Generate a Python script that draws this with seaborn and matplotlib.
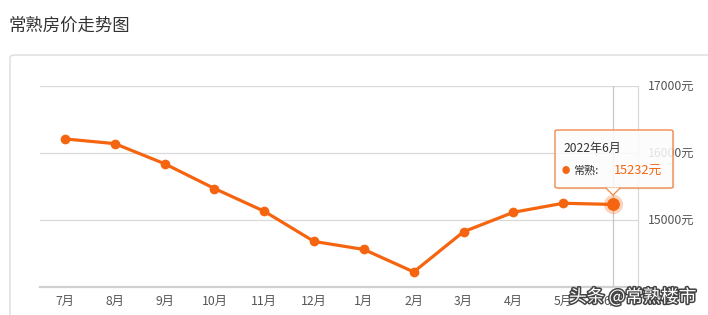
import matplotlib
matplotlib.use("Agg")
import matplotlib.pyplot as plt
import seaborn as sns
import pandas as pd
from matplotlib.patches import FancyBboxPatch, Polygon
import matplotlib.patheffects as pe

months = ["7月", "8月", "9月", "10月", "11月", "12月", "1月", "2月", "3月", "4月", "5月", "6月"]
prices = [16210, 16140, 15840, 15470, 15130, 14680, 14560, 14225, 14825, 15115, 15250, 15232]
y_ticks = [15000, 16000, 17000]
y_tick_labels = ["15000元", "16000元", "17000元"]
title = "常熟房价走势图"
tip_title = "2022年6月"
tip_series = "常熟:"
tip_value = "15232元"
watermark = "头条 @常熟楼市"

sns.set_theme(style="white")
plt.rcParams["font.family"] = ["Noto Sans CJK SC", "DejaVu Sans"]

W, H = 708, 315
fig = plt.figure(figsize=(W / 100, H / 100), dpi=100)
fig.patch.set_facecolor("white")

def fx(x):
    return x / W

def fy(y):
    return 1 - y / H

ORANGE = "#f5650f"

# card
card = FancyBboxPatch((fx(10), fy(340)), fx(720) - fx(10), fy(55) - fy(340),
                      boxstyle="round,pad=0,rounding_size=0.008",
                      transform=fig.transFigure, facecolor="white",
                      edgecolor="#dcdcdc", linewidth=1.0, zorder=-5)
fig.patches.append(card)

fig.text(fx(8), fy(26), title, fontsize=12.5, color="#333333", va="center", ha="left")

ax = fig.add_axes([fx(40), fy(287), fx(638) - fx(40), fy(86) - fy(287)])
ax.set_zorder(1)
ax.set_facecolor("none")
ax.patch.set_alpha(0)

df = pd.DataFrame({"month": months, "price": prices})
df["pos"] = range(len(months))
sns.lineplot(data=df, x="pos", y="price", ax=ax, color=ORANGE, linewidth=2.3,
             marker="o", markersize=7, markeredgewidth=0, sort=False, zorder=3)

ax.set_xlim(-0.5, len(months) - 0.5)
ax.set_ylim(14000, 17000)
ax.set_xticks(range(len(months)))
ax.set_xticklabels(months)
ax.set_yticks(y_ticks)
ax.set_yticklabels(y_tick_labels)
ax.yaxis.tick_right()
ax.set_xlabel("")
ax.set_ylabel("")
for yt in y_ticks:
    ax.axhline(yt, color="#d9d9d9", linewidth=0.9, zorder=1)
for s in ["left", "top"]:
    ax.spines[s].set_visible(False)
ax.spines["right"].set_color("#d9d9d9")
ax.spines["right"].set_linewidth(0.9)
ax.spines["bottom"].set_color("#d0d0d0")
ax.spines["bottom"].set_linewidth(1.6)
ax.tick_params(axis="x", length=3, color="#d0d0d0", width=0.8, labelsize=8.8,
               labelcolor="#555555", pad=3)
ax.tick_params(axis="y", length=0, labelsize=8.8, labelcolor="#555555", pad=7)
for lbl in ax.get_yticklabels():
    lbl.set_verticalalignment("center")

# crosshair at last point
last = len(months) - 1
ax.axvline(last, color="#c8c8c8", linewidth=0.9, zorder=2)
ax.scatter([last], [prices[last]], s=190, color=ORANGE, alpha=0.28, linewidths=0, zorder=4)
ax.scatter([last], [prices[last]], s=85, color=ORANGE, linewidths=0, zorder=5)

# tooltip
tx0, ty0, tx1, ty1 = 555, 130, 673, 188
shadow = FancyBboxPatch((fx(tx0 + 1.5), fy(ty1 + 1.5)), fx(tx1) - fx(tx0), fy(ty0) - fy(ty1),
                        boxstyle="round,pad=0,rounding_size=0.004", transform=fig.transFigure,
                        facecolor="#000000", alpha=0.06, edgecolor="none", zorder=10)
fig.patches.append(shadow)
box = FancyBboxPatch((fx(tx0), fy(ty1)), fx(tx1) - fx(tx0), fy(ty0) - fy(ty1),
                     boxstyle="round,pad=0,rounding_size=0.004", transform=fig.transFigure,
                     facecolor=(1, 1, 1, 0.85), edgecolor="#f08a4b", linewidth=1.0, zorder=11)
fig.patches.append(box)
tri = Polygon([(fx(606), fy(188)), (fx(613), fy(195)), (fx(620), fy(188))], closed=False,
              transform=fig.transFigure, facecolor="white", edgecolor="#f08a4b",
              linewidth=1.0, zorder=12)
fig.patches.append(tri)
tri_fill = Polygon([(fx(606.8), fy(187.6)), (fx(613), fy(193.8)), (fx(619.2), fy(187.6))],
                   closed=True, transform=fig.transFigure, facecolor="white",
                   edgecolor="none", zorder=13)
fig.patches.append(tri_fill)

fig.text(fx(563), fy(148), tip_title, fontsize=8.7, color="#333333", va="center", ha="left", zorder=14)
fig.text(fx(566), fy(171), "●", fontsize=6, color=ORANGE, va="center", ha="center", zorder=14)
fig.text(fx(573), fy(171), tip_series, fontsize=8, color="#333333", va="center", ha="left", zorder=14)
fig.text(fx(614), fy(171), tip_value, fontsize=9.2, color=ORANGE, va="center", ha="left", zorder=14)

# watermark
fig.text(fx(569), fy(297), watermark, fontsize=12.8, color="white", va="center", ha="left",
         zorder=20, path_effects=[pe.withStroke(linewidth=2.2, foreground="#444444")])

fig.savefig("out.png", dpi=100, facecolor="white")
